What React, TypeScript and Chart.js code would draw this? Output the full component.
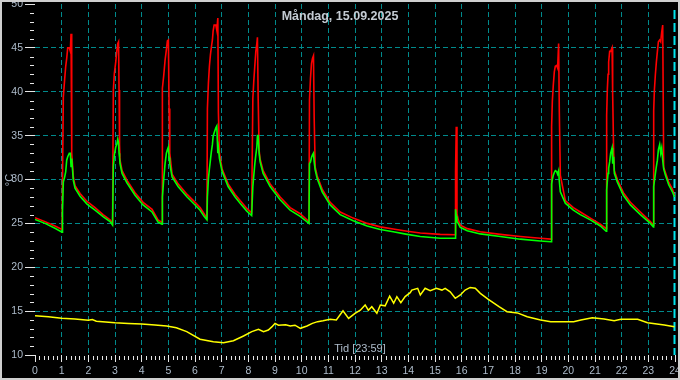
import { useEffect, useRef } from "react";
import { Chart, registerables } from "chart.js";

Chart.register(...registerables);

const TITLE = "Måndag, 15.09.2025";
const X_TITLE = "Tid [23:59]";
const Y_TITLE = "°C";

// Time of day in hours for the heating flow / return samples
const heatHours = [
  0, 0.375, 0.75, 1.013, 1.032, 1.062, 1.114, 1.152, 1.189, 1.227, 1.287, 1.325, 1.351, 1.377, 1.437, 1.501, 1.689, 1.951, 2.251, 2.552, 2.814, 2.908,
  2.938, 2.976, 3.028, 3.066, 3.103, 3.133, 3.152, 3.171, 3.189, 3.265, 3.452, 3.752, 4.053, 4.39, 4.615, 4.765,
  4.777, 4.829, 4.878, 4.927, 4.964, 5.002, 5.028, 5.054, 5.141, 5.366, 5.704, 6.004, 6.191, 6.341, 6.447,
  6.465, 6.503, 6.54, 6.578, 6.615, 6.653, 6.679, 6.717, 6.781, 6.818, 6.856, 6.878, 6.916, 7.017, 7.242, 7.505, 7.692, 7.944, 8.124,
  8.169, 8.206, 8.244, 8.281, 8.319, 8.341, 8.368, 8.405, 8.443, 8.555, 8.818, 9.193, 9.568, 9.944, 10.274,
  10.293, 10.33, 10.368, 10.405, 10.443, 10.469, 10.507, 10.582, 10.769, 11.069, 11.445, 11.932, 12.458, 12.946, 13.433, 13.959, 14.447, 15.197, 15.76,
  15.771, 15.797, 15.824, 15.872, 15.947, 16.21, 16.698, 17.448, 18.199, 18.949, 19.355,
  19.373, 19.4, 19.437, 19.475, 19.512, 19.561, 19.598, 19.636, 19.662, 19.7, 19.887, 20.188, 20.45, 20.826, 21.201, 21.418,
  21.437, 21.463, 21.49, 21.512, 21.55, 21.587, 21.64, 21.662, 21.7, 21.726, 21.839, 22.064, 22.326, 22.702, 23.077, 23.189,
  23.201, 23.227, 23.265, 23.302, 23.34, 23.377, 23.426, 23.464, 23.501, 23.539, 23.576, 23.64, 23.764, 23.903, 23.98,
];

// Flow temperature (red)
const flowTemps = [
  25.65, 25.2, 24.7, 24.3, 24.3, 39.4, 41.5, 42.9, 43.8, 45.0, 45.0, 44.6, 46.6, 33.0, 30.3, 29.3, 28.4, 27.5, 26.8, 26.0, 25.4, 25.0,
  40.2, 42.1, 43.4, 44.6, 45.5, 45.7, 40.2, 34.0, 32.2, 31.0, 29.9, 28.5, 27.4, 26.6, 25.4, 25.1,
  40.4, 41.9, 43.6, 44.8, 45.8, 45.9, 38.1, 33.0, 30.6, 29.5, 28.3, 27.4, 26.8, 26.1, 25.6,
  38.1, 41.0, 42.9, 44.2, 45.1, 45.9, 46.9, 47.6, 47.6, 47.0, 48.4, 37.6, 33.0, 31.2, 29.5, 28.3, 27.6, 26.7, 26.2,
  39.2, 41.3, 43.0, 44.6, 45.5, 46.2, 39.4, 33.3, 32.3, 31.0, 29.5, 28.0, 26.8, 26.1, 25.2,
  39.1, 41.5, 43.2, 43.8, 44.1, 37.0, 31.4, 30.4, 28.9, 27.4, 26.3, 25.6, 25.0, 24.6, 24.35, 24.1, 23.9, 23.75, 23.7,
  30.9, 36.0, 26.1, 25.4, 24.8, 24.4, 24.05, 23.75, 23.5, 23.3, 23.2,
  36.0, 38.9, 40.8, 42.3, 42.9, 43.0, 42.7, 45.5, 37.7, 30.5, 27.6, 26.8, 26.3, 25.6, 24.9, 24.4,
  37.3, 40.3, 42.0, 43.4, 44.6, 44.6, 45.0, 39.8, 33.0, 31.0, 30.0, 28.5, 27.4, 26.3, 25.2, 24.8,
  37.8, 40.2, 42.0, 43.4, 44.6, 45.7, 45.9, 45.7, 46.8, 47.6, 31.4, 30.8, 29.7, 28.9, 28.2,
];

// Return temperature (green)
const returnTemps = [
  25.45, 25.0, 24.45, 24.0, 26.5, 29.7, 30.3, 30.9, 32.2, 32.6, 33.0, 33.0, 31.5, 32.4, 29.9, 29.0, 28.1, 27.2, 26.5, 25.76, 25.2, 24.8,
  31.5, 32.8, 33.7, 34.0, 34.6, 34.2, 33.0, 32.5, 31.8, 30.7, 29.6, 28.2, 27.1, 26.3, 25.15, 24.9,
  28.0, 30.1, 31.8, 33.0, 33.4, 33.7, 32.5, 31.8, 30.3, 29.2, 28.0, 27.1, 26.5, 25.8, 25.4,
  28.0, 30.1, 31.2, 32.2, 33.2, 34.0, 34.9, 35.3, 35.9, 36.1, 33.0, 33.6, 32.4, 30.9, 29.2, 28.0, 27.3, 26.4, 25.9,
  29.2, 30.5, 31.8, 32.8, 33.7, 35.0, 35.0, 33.0, 32.0, 30.7, 29.2, 27.7, 26.5, 25.8, 25.0,
  31.8, 32.0, 32.5, 32.8, 33.0, 32.0, 31.1, 30.1, 28.6, 27.1, 26.0, 25.3, 24.7, 24.3, 24.05, 23.75, 23.5, 23.3, 23.3,
  26.6, 25.8, 25.2, 25.0, 24.55, 24.15, 23.8, 23.5, 23.2, 23.0, 22.9,
  29.5, 30.0, 30.5, 30.8, 31.0, 30.9, 30.6, 31.0, 29.8, 28.6, 27.3, 26.5, 26.0, 25.4, 24.7, 24.1,
  28.8, 29.8, 30.7, 31.3, 32.0, 33.0, 33.6, 31.8, 32.6, 30.7, 29.7, 28.2, 27.1, 26.0, 25.0, 24.6,
  29.2, 29.8, 30.7, 31.5, 32.2, 33.4, 34.0, 33.0, 33.6, 32.2, 31.2, 30.5, 29.4, 28.6, 28.0,
];

// Outdoor temperature (yellow)
const outdoorHours = [
  0, 0.5, 1.0, 1.5, 2.0, 2.15, 2.3, 3.0, 3.5, 4.0, 4.5, 4.94, 5.3, 5.69, 6.19, 6.69, 7.07, 7.44, 7.82, 8.13,
  8.38, 8.57, 8.75, 8.88, 9.0, 9.13, 9.4, 9.57, 9.75, 9.95, 10.2, 10.4, 10.6, 10.8, 11.07, 11.3, 11.55, 11.76,
  12.0, 12.2, 12.38, 12.5, 12.63, 12.82, 12.95, 13.13, 13.3, 13.45, 13.57, 13.72, 13.88, 14.07, 14.13, 14.35,
  14.45, 14.63, 14.82, 15.05, 15.26, 15.38, 15.57, 15.76, 15.95, 16.13, 16.32, 16.51, 16.7, 17.0, 17.4, 17.7,
  18.09, 18.46, 18.96, 19.34, 20.2, 20.47, 20.9, 21.34, 21.72, 21.97, 22.6, 22.97, 23.6, 23.98,
];
const outdoorTemps = [
  14.48, 14.35, 14.18, 14.1, 13.95, 14.05, 13.85, 13.68, 13.6, 13.53, 13.42, 13.3, 13.1, 12.66, 11.8, 11.52, 11.4, 11.63, 12.17, 12.66,
  12.93, 12.66, 12.85, 13.2, 13.6, 13.4, 13.45, 13.3, 13.4, 13.04, 13.3, 13.6, 13.8, 13.9, 14.07, 14.0, 15.05, 14.18,
  14.75, 15.1, 15.7, 15.1, 15.5, 14.75, 15.7, 15.6, 16.7, 15.9, 16.65, 15.96, 16.65, 17.1, 17.4, 17.6,
  16.84, 17.6, 17.33, 17.6, 17.4, 17.6, 17.2, 16.46, 16.84, 17.4, 17.7, 17.6, 17.03, 16.35, 15.5, 14.93,
  14.8, 14.36, 13.99, 13.8, 13.8, 13.99, 14.25, 14.1, 13.9, 14.07, 14.07, 13.68, 13.42, 13.22,
];

const X_MIN = 0;
const X_MAX = 24;
const Y_MIN = 10;
const Y_MAX = 50;

const GRID = "#008a8c";
const TICK = "#e6e6e6";
const LABEL = "#aebccb";
const TEXT = "#c4cbd3";
const FONT = "'Liberation Sans', Arial, sans-serif";

const decorPlugin = {
  id: "decor",
  beforeDatasetsDraw(chart: any) {
    const { ctx, scales } = chart;
    const xs = scales.x;
    const ys = scales.y;
    const area = chart.chartArea;
    ctx.save();
    // current-time marker at end of day
    const xe = Math.round(xs.getPixelForValue(X_MAX)) - 0.5;
    ctx.strokeStyle = "#00e6ee";
    ctx.lineWidth = 2;
    ctx.setLineDash([9, 4]);
    ctx.beginPath();
    ctx.moveTo(xe, area.top + 6);
    ctx.lineTo(xe, area.bottom);
    ctx.stroke();
    ctx.restore();
  },
  afterDraw(chart: any) {
    const { ctx, scales, width, height } = chart;
    const xs = scales.x;
    const ys = scales.y;
    const area = chart.chartArea;
    ctx.save();
    ctx.strokeStyle = TICK;
    ctx.lineWidth = 1;
    ctx.setLineDash([]);
    ctx.beginPath();
    for (let v = Y_MIN; v <= Y_MAX; v++) {
      if (v % 5 === 0) continue;
      const y = Math.round(ys.getPixelForValue(v)) + 0.5;
      ctx.moveTo(area.left - 5, y);
      ctx.lineTo(area.left - 1, y);
    }
    for (let m = 0; m <= 144; m++) {
      if (m % 6 === 0) continue;
      const x = Math.round(xs.getPixelForValue(m / 6)) + 0.5;
      ctx.moveTo(x, area.bottom + 1);
      ctx.lineTo(x, area.bottom + 5);
    }
    ctx.stroke();

    ctx.fillStyle = TEXT;
    ctx.textAlign = "center";
    ctx.textBaseline = "middle";
    ctx.font = `bold 12.5px ${FONT}`;
    ctx.fillText(TITLE, width / 2, 17);

    ctx.font = `11px ${FONT}`;
    ctx.fillStyle = LABEL;
    ctx.fillText(X_TITLE, 360, 349);

    ctx.save();
    ctx.translate(10, 180);
    ctx.rotate(-Math.PI / 2);
    ctx.fillText(Y_TITLE, 0, 0);
    ctx.restore();

    ctx.strokeStyle = "#cfcfcf";
    ctx.lineWidth = 2;
    ctx.strokeRect(1, 1, width - 2, height - 2);
    ctx.restore();
  },
};

export default function App() {
  const ref = useRef<HTMLCanvasElement | null>(null);

  useEffect(() => {
    if (!ref.current) return;
    const chart = new Chart(ref.current, {
      type: "line",
      data: {
        datasets: [
          {
            label: "Utetemperatur",
            data: outdoorHours.map((h, i) => ({ x: h, y: outdoorTemps[i] })),
            borderColor: "#ffff00",
            borderWidth: 1.5,
          },
          {
            label: "Retur",
            data: heatHours.map((h, i) => ({ x: h, y: returnTemps[i] })),
            borderColor: "#00ff00",
            borderWidth: 1.6,
          },
          {
            label: "Framledning",
            data: heatHours.map((h, i) => ({ x: h, y: flowTemps[i] })),
            borderColor: "#ff0000",
            borderWidth: 1.6,
          },
        ],
      },
      options: {
        animation: false,
        responsive: false,
        maintainAspectRatio: false,
        parsing: false as any,
        layout: { padding: { top: 4, right: 5, left: 0, bottom: 0 } },
        elements: { point: { radius: 0 }, line: { tension: 0 } },
        plugins: {
          legend: { display: false },
          tooltip: { enabled: false },
          title: { display: false },
        },
        scales: {
          x: {
            type: "linear",
            min: X_MIN,
            max: X_MAX,
            ticks: {
              stepSize: 1,
              autoSkip: false,
              maxRotation: 0,
              color: LABEL,
              padding: 3,
              font: { family: FONT, size: 10.5 },
            },
            grid: {
              color: (c: any) =>
                c.tick && (c.tick.value === X_MIN || c.tick.value === X_MAX) ? "rgba(0,0,0,0)" : GRID,
              lineWidth: 1,
              tickColor: TICK,
              tickLength: 7,
            },
            border: { display: false, dash: [5, 3] },
            afterFit: (s: any) => {
              s.height = 25;
              s.paddingLeft = 0;
              s.paddingRight = 0;
            },
          },
          y: {
            type: "linear",
            min: Y_MIN,
            max: Y_MAX,
            ticks: {
              stepSize: 5,
              color: LABEL,
              padding: 2,
              font: { family: FONT, size: 10.5 },
            },
            grid: {
              color: (c: any) =>
                c.tick && (c.tick.value === Y_MIN || c.tick.value === Y_MAX) ? "rgba(0,0,0,0)" : GRID,
              lineWidth: 1,
              tickColor: TICK,
              tickLength: 10,
            },
            border: { display: false, dash: [5, 3] },
            afterFit: (s: any) => {
              s.width = 35;
              s.paddingTop = 0;
              s.paddingBottom = 0;
            },
          },
        },
      },
      plugins: [decorPlugin],
    });
    return () => chart.destroy();
  }, []);

  return (
    <div style={{ position: "fixed", left: 0, top: 0, width: 680, height: 380, background: "#000" }}>
      <canvas ref={ref} width={680} height={380} style={{ display: "block" }} />
    </div>
  );
}
